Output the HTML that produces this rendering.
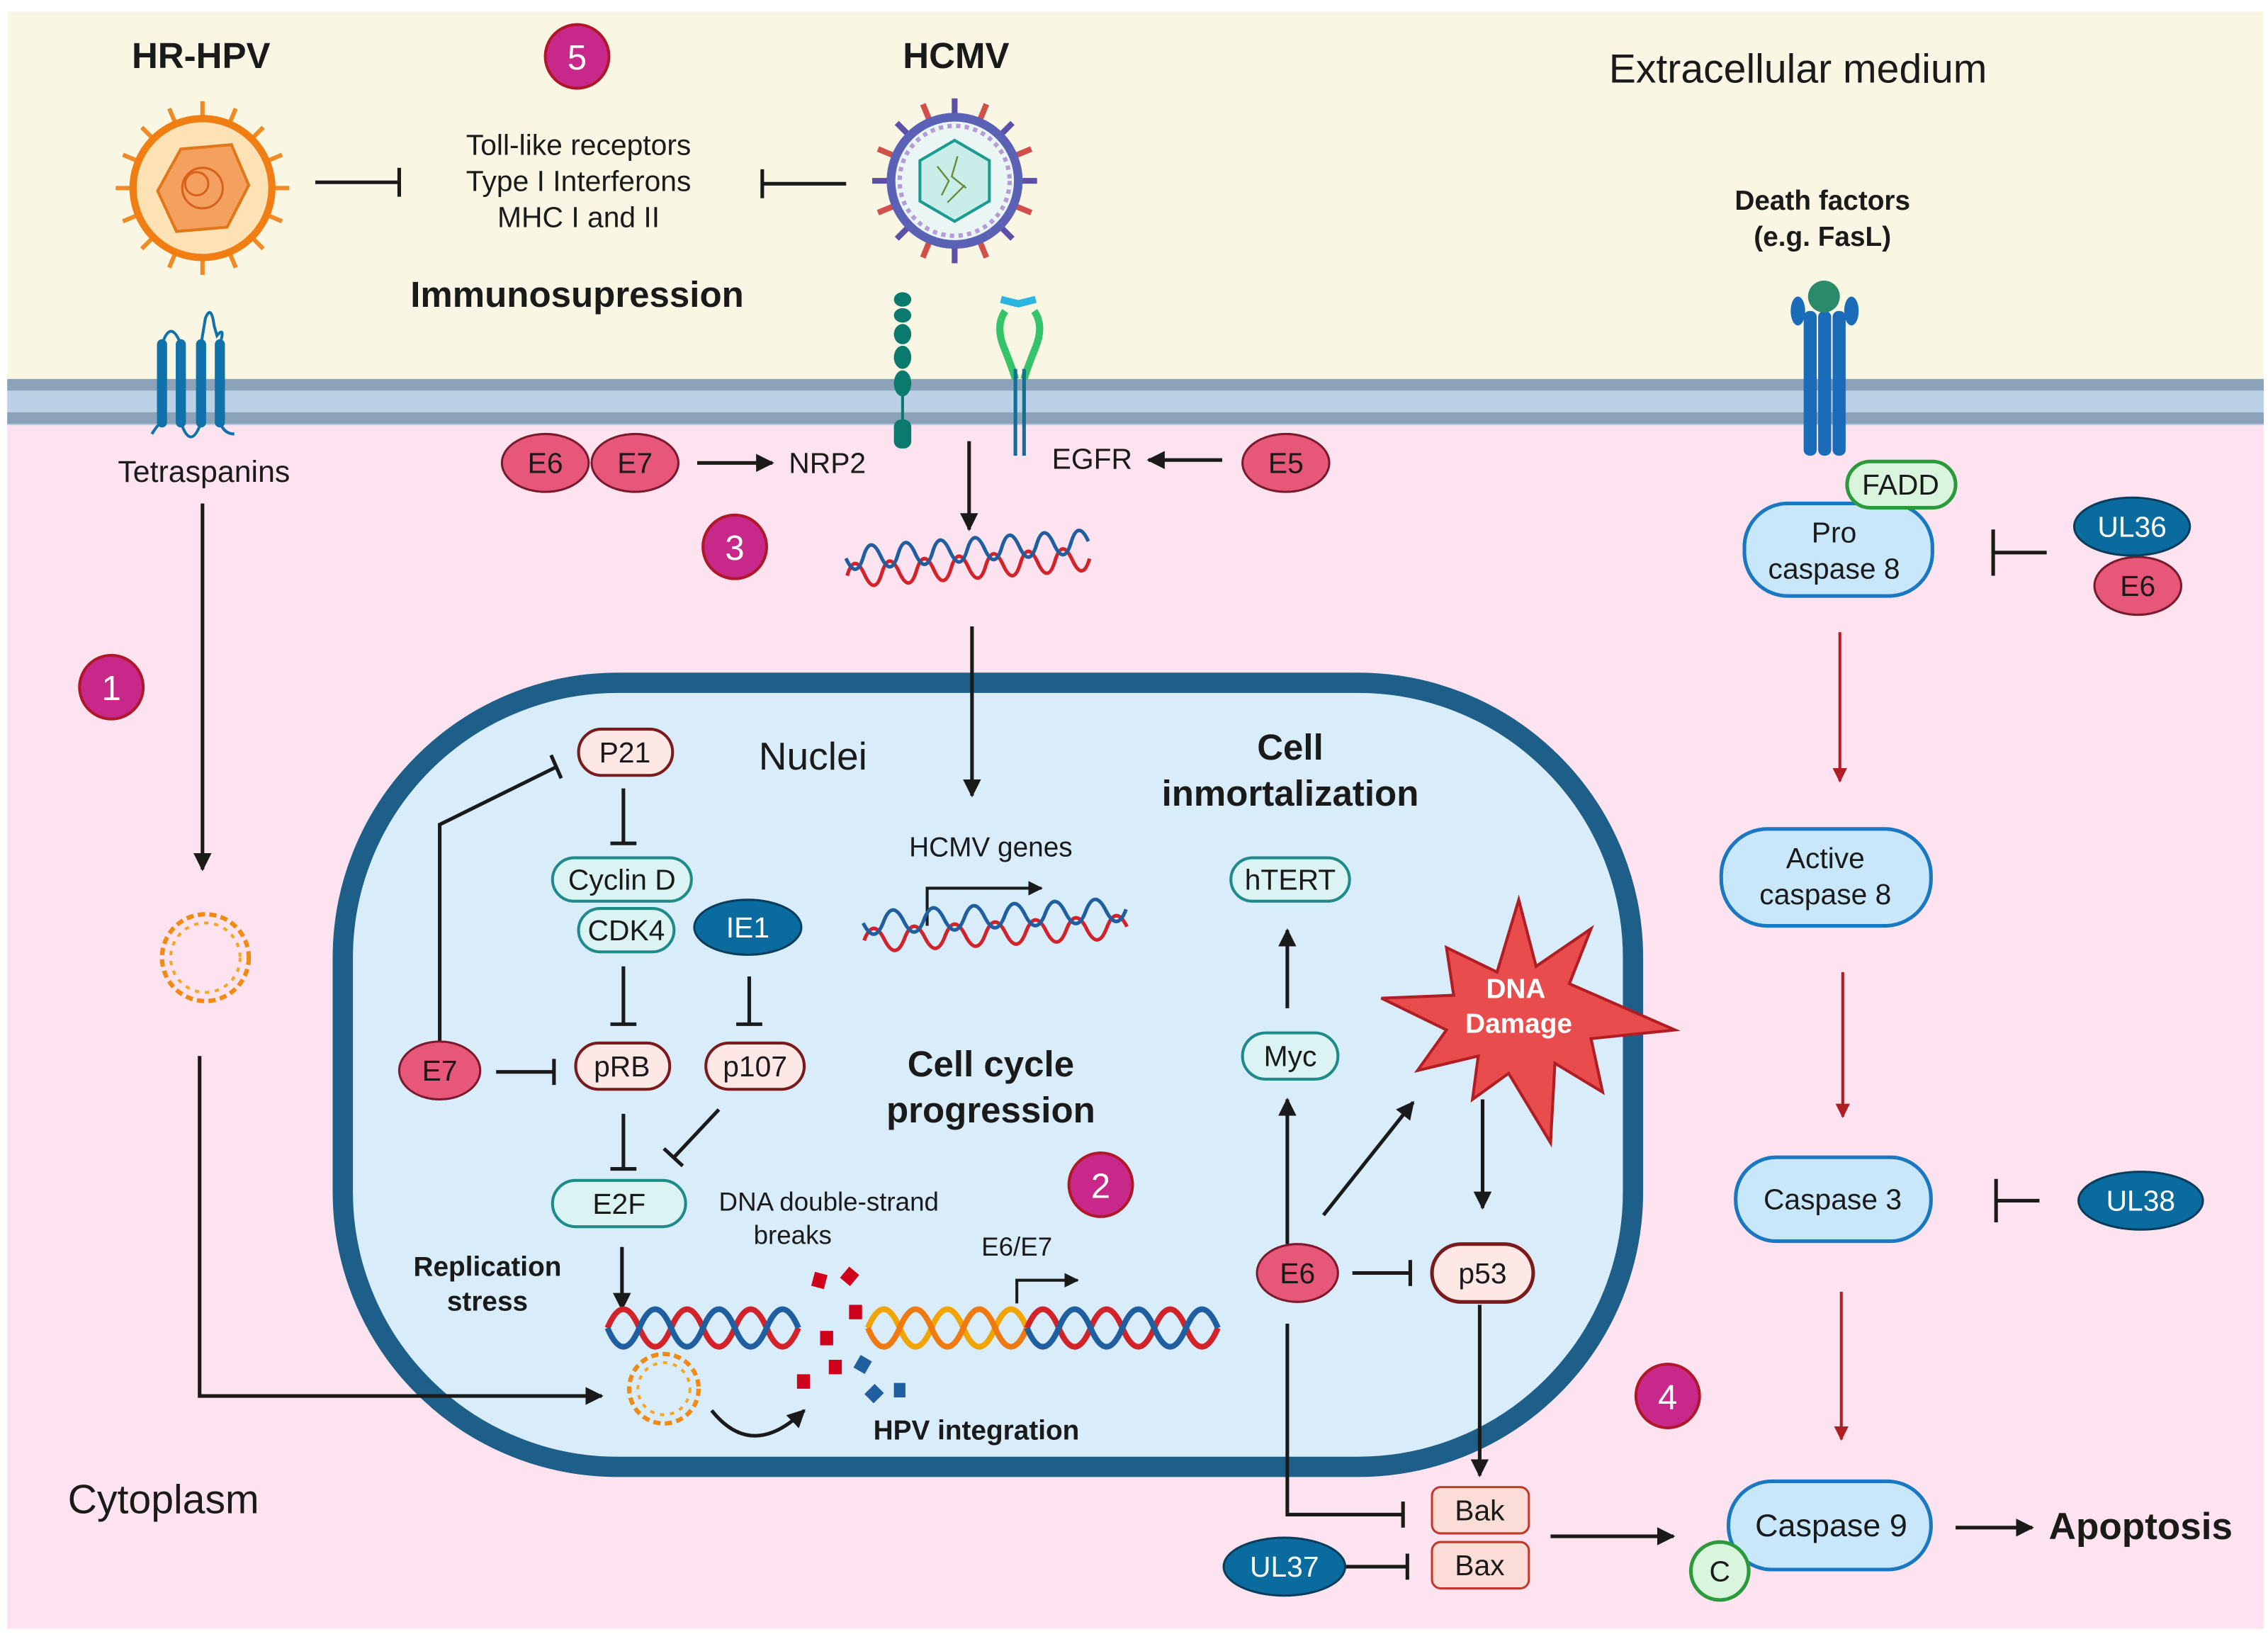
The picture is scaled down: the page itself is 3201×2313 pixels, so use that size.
<!DOCTYPE html>
<html><head><meta charset="utf-8"><style>
html,body{margin:0;padding:0;background:#fff}
svg{display:block}
text{font-family:"Liberation Sans",sans-serif;fill:#1a1a1a}
.b{font-weight:bold}
</style></head><body>
<svg width="3201" height="2313" viewBox="0 0 1568 1133" xmlns="http://www.w3.org/2000/svg">
<defs>
<marker id="ar" viewBox="0 0 10 10" refX="9" refY="5" markerWidth="5" markerHeight="5" orient="auto-start-reverse"><path d="M0 0L10 5L0 10z" fill="#1a1a1a"/></marker>
<marker id="rr" viewBox="0 0 10 10" refX="9" refY="5" markerWidth="5" markerHeight="5" orient="auto"><path d="M0 0L10 5L0 10z" fill="#b01e23"/></marker>
</defs>
<rect width="1568" height="1133" fill="#fff"/>
<rect x="5" y="8" width="1560" height="256" fill="#f9f6e4"/>
<rect x="5" y="292" width="1560" height="834" fill="#fde3ef"/>
<rect x="5" y="262" width="1560" height="32" fill="#bcd0e6"/>
<rect x="5" y="262" width="1560" height="8" fill="#8ca2b8"/>
<rect x="5" y="285" width="1560" height="8" fill="#8ca2b8"/>

<!-- nucleus -->
<rect x="237" y="472" width="892" height="542" rx="190" fill="#d9ecfa" stroke="#1e5f8a" stroke-width="14"/>

<!-- titles -->
<text x="139" y="47" font-size="25" text-anchor="middle" class="b">HR-HPV</text>
<text x="661" y="47" font-size="25" text-anchor="middle" class="b">HCMV</text>
<text x="1243" y="57" font-size="28" text-anchor="middle">Extracellular medium</text>
<g font-size="20" text-anchor="middle"><text x="400" y="107">Toll-like receptors</text><text x="400" y="132">Type I Interferons</text><text x="400" y="157">MHC I and II</text></g>
<text x="399" y="212" font-size="25" text-anchor="middle" class="b">Immunosupression</text>
<g font-size="19" text-anchor="middle" class="b"><text x="1260" y="145">Death factors</text><text x="1260" y="170">(e.g. FasL)</text></g>
<text x="141" y="333" font-size="21" text-anchor="middle">Tetraspanins</text>
<text x="113" y="1046" font-size="28" text-anchor="middle">Cytoplasm</text>

<!-- HPV virus -->
<g stroke="#f08a24" stroke-width="3" fill="#f08a24">
<line x1="140" y1="70" x2="140" y2="190"/><line x1="80" y1="130" x2="200" y2="130"/>
<line x1="98" y1="88" x2="182" y2="172"/><line x1="98" y1="172" x2="182" y2="88"/>
<line x1="117" y1="75" x2="163" y2="185"/><line x1="85" y1="107" x2="195" y2="153"/>
<line x1="85" y1="153" x2="195" y2="107"/><line x1="117" y1="185" x2="163" y2="75"/>
</g>
<circle cx="140" cy="130" r="48" fill="#fde2b5" stroke="#f07e12" stroke-width="5"/>
<polygon points="125,103 160,100 172,128 157,157 122,160 109,132" fill="#f4a160" stroke="#e2771a" stroke-width="2"/>
<circle cx="140" cy="130" r="14" fill="none" stroke="#d8621a" stroke-width="1.5"/>
<circle cx="136" cy="127" r="8" fill="none" stroke="#d8621a" stroke-width="1.5"/>

<!-- HCMV virus -->
<g stroke-width="4">
<g stroke="#5b4fa8"><line x1="660" y1="68" x2="660" y2="182"/><line x1="603" y1="125" x2="717" y2="125"/><line x1="620" y1="85" x2="700" y2="165"/><line x1="620" y1="165" x2="700" y2="85"/></g>
<g stroke="#d2504a"><line x1="638" y1="72" x2="682" y2="178"/><line x1="607" y1="103" x2="713" y2="147"/><line x1="607" y1="147" x2="713" y2="103"/><line x1="638" y1="178" x2="682" y2="72"/></g>
</g>
<circle cx="660" cy="125" r="44" fill="#eaf6f4" stroke="#5b62b5" stroke-width="6"/>
<circle cx="660" cy="125" r="38" fill="none" stroke="#b79ad8" stroke-width="3" stroke-dasharray="3 3"/>
<polygon points="660,97 684,111 684,139 660,153 636,139 636,111" fill="#c9eeea" stroke="#1a9a90" stroke-width="2"/>
<path d="M648 115 l8 10 l-5 10 M662 108 l-4 14 l10 8 M655 140 l12 -12" stroke="#6b8a3a" stroke-width="1.2" fill="none"/>

<!-- inhibit lines top -->
<g stroke="#1a1a1a" stroke-width="2.5" fill="none">
<line x1="218" y1="126" x2="276" y2="126"/><line x1="276" y1="116" x2="276" y2="136"/>
<line x1="585" y1="127" x2="527" y2="127"/><line x1="527" y1="117" x2="527" y2="137"/>
</g>

<!-- tetraspanins -->
<g stroke="#0f72aa" stroke-width="7" stroke-linecap="round" fill="none">
<line x1="112" y1="238" x2="112" y2="292"/><line x1="125" y1="238" x2="125" y2="292"/>
<line x1="139" y1="238" x2="139" y2="292"/><line x1="152" y1="238" x2="152" y2="292"/>
</g>
<g stroke="#0f72aa" stroke-width="2" fill="none">
<path d="M112 238 Q118 220 125 238"/><path d="M139 238 L142 220 Q146 210 148 225 L150 232 Q156 225 152 238"/>
<path d="M105 300 Q110 292 112 292 M125 292 Q132 312 139 292 M152 292 Q155 300 162 300"/>
</g>
<!-- NRP2 -->
<g fill="#0b7a6e"><ellipse cx="624" cy="207" rx="6" ry="5"/><ellipse cx="624" cy="218" rx="6" ry="5"/><ellipse cx="624" cy="231" rx="6" ry="7"/><ellipse cx="624" cy="247" rx="6" ry="8"/><ellipse cx="624" cy="265" rx="6" ry="9"/><rect x="618" y="290" width="12" height="20" rx="5"/></g>
<line x1="624" y1="270" x2="624" y2="292" stroke="#0b7a6e" stroke-width="2"/>
<!-- EGFR -->
<g fill="none" stroke-width="5">
<path d="M695 215 Q688 225 694 240 Q700 255 702 262" stroke="#35c46a"/><path d="M715 215 Q722 225 716 240 Q710 255 708 262" stroke="#35c46a"/>
<path d="M692 207 L704 210 L716 207" stroke="#2bb5e0"/></g>
<line x1="702" y1="255" x2="702" y2="315" stroke="#0f6f99" stroke-width="2.5"/><line x1="708" y1="255" x2="708" y2="315" stroke="#0f6f99" stroke-width="2.5"/>
<!-- Fas receptor -->
<g fill="#1a6bb8"><rect x="1247" y="215" width="9" height="100" rx="4"/><rect x="1257" y="215" width="9" height="100" rx="4"/><rect x="1267" y="215" width="9" height="100" rx="4"/>
<ellipse cx="1243" cy="215" rx="5" ry="10"/><ellipse cx="1280" cy="215" rx="5" ry="10"/></g>
<circle cx="1261" cy="205" r="11" fill="#2a8a6a"/>

<!-- top cytoplasm row -->
<g stroke="#7a1a2c" stroke-width="1.5" fill="#e6577a">
<ellipse cx="377" cy="320" rx="30" ry="20"/><ellipse cx="439" cy="320" rx="30" ry="20"/><ellipse cx="889" cy="320" rx="30" ry="20"/>
</g>
<g font-size="20" text-anchor="middle"><text x="377" y="327">E6</text><text x="439" y="327">E7</text><text x="889" y="327">E5</text>
<text x="572" y="327">NRP2</text><text x="755" y="324">EGFR</text></g>
<g stroke="#1a1a1a" stroke-width="2.5" fill="none" marker-end="url(#ar)">
<line x1="482" y1="320" x2="534" y2="320"/><line x1="845" y1="318" x2="794" y2="318"/>
<line x1="670" y1="305" x2="670" y2="366"/><line x1="672" y1="433" x2="672" y2="550"/>
<line x1="140" y1="348" x2="140" y2="601"/>
<polyline points="138,730 138,965 416,965"/>
<line x1="890" y1="860" x2="890" y2="760"/><line x1="890" y1="697" x2="890" y2="643"/>
<line x1="915" y1="840" x2="977" y2="762"/><line x1="1025" y1="760" x2="1025" y2="835"/>
<line x1="1023" y1="902" x2="1023" y2="1020"/><line x1="430" y1="862" x2="430" y2="905"/>
<line x1="1072" y1="1062" x2="1157" y2="1062"/><line x1="1352" y1="1056" x2="1405" y2="1056"/>
<path d="M492 975 Q520 1010 556 975"/>
</g>
<path d="M703 901 L703 885 L745 885" stroke="#1a1a1a" stroke-width="2" fill="none" marker-end="url(#ar)"/>
<path d="M641 640 L641 614 L720 614" stroke="#1a1a1a" stroke-width="2" fill="none" marker-end="url(#ar)"/>

<!-- inhibitors -->
<g stroke="#1a1a1a" stroke-width="2.5" fill="none">
<polyline points="304,720 304,570 385,530"/><line x1="381" y1="522" x2="388" y2="538"/>
<line x1="431" y1="545" x2="431" y2="583"/><line x1="422" y1="583" x2="440" y2="583"/>
<line x1="431" y1="668" x2="431" y2="708"/><line x1="422" y1="708" x2="440" y2="708"/>
<line x1="518" y1="675" x2="518" y2="708"/><line x1="509" y1="708" x2="527" y2="708"/>
<line x1="343" y1="741" x2="383" y2="741"/><line x1="383" y1="732" x2="383" y2="750"/>
<line x1="431" y1="770" x2="431" y2="808"/><line x1="422" y1="808" x2="440" y2="808"/>
<line x1="497" y1="767" x2="466" y2="800"/><line x1="459" y1="794" x2="472" y2="806"/>
<line x1="935" y1="880" x2="975" y2="880"/><line x1="975" y1="871" x2="975" y2="889"/>
<polyline points="890,915 890,1047 970,1047"/><line x1="970" y1="1038" x2="970" y2="1056"/>
<line x1="930" y1="1083" x2="973" y2="1083"/><line x1="973" y1="1074" x2="973" y2="1092"/>
<line x1="1415" y1="382" x2="1378" y2="382"/><line x1="1378" y1="366" x2="1378" y2="398"/>
<line x1="1410" y1="830" x2="1380" y2="830"/><line x1="1380" y1="815" x2="1380" y2="845"/>
</g>
<!-- red arrows -->
<g stroke="#b01e23" stroke-width="2" marker-end="url(#rr)">
<line x1="1272" y1="437" x2="1272" y2="540"/><line x1="1274" y1="672" x2="1274" y2="772"/><line x1="1273" y1="893" x2="1273" y2="995"/>
</g>

<!-- helices -->
<g fill="none" stroke-width="2.5">
<path d="M585 392 q6 -16 12 0 t12 0 t12 0 t12 0 t12 0 t12 0 t12 0 t12 0 t12 0 t12 0 t12 0 t12 0 t12 0 t12 0" stroke="#d2232a" transform="rotate(-4 670 385)"/>
<path d="M585 380 q6 16 12 0 t12 0 t12 0 t12 0 t12 0 t12 0 t12 0 t12 0 t12 0 t12 0 t12 0 t12 0 t12 0 t12 0" stroke="#1f5fa0" transform="rotate(-4 670 385)"/>
<path d="M597 645 q7 -16 14 0 t14 0 t14 0 t14 0 t14 0 t14 0 t14 0 t14 0 t14 0 t14 0 t14 0 t14 0 t14 0" stroke="#d2232a" transform="rotate(-3 695 640)"/>
<path d="M597 633 q7 16 14 0 t14 0 t14 0 t14 0 t14 0 t14 0 t14 0 t14 0 t14 0 t14 0 t14 0 t14 0 t14 0" stroke="#1f5fa0" transform="rotate(-3 695 640)"/>
<g stroke-width="4">
<path d="M420 918 q11 -26 22 0 t22 0 t22 0 t22 0 t22 0 t22 0" stroke="#d2232a"/>
<path d="M420 918 q11 26 22 0 t22 0 t22 0 t22 0 t22 0 t22 0" stroke="#1f5fa0"/>
<path d="M600 918 q11 -26 22 0 t22 0 t22 0 t22 0 t22 0" stroke="#f0a500"/>
<path d="M600 918 q11 26 22 0 t22 0 t22 0 t22 0 t22 0" stroke="#f07a12"/>
<path d="M710 918 q11 -26 22 0 t22 0 t22 0 t22 0 t22 0 t22 0" stroke="#d2232a"/>
<path d="M710 918 q11 26 22 0 t22 0 t22 0 t22 0 t22 0 t22 0" stroke="#1f5fa0"/>
</g>
<circle cx="142" cy="662" r="30" stroke="#f08a12" stroke-width="3" stroke-dasharray="5 3"/>
<circle cx="142" cy="662" r="24" stroke="#f5a623" stroke-width="2" stroke-dasharray="3 4"/>
<circle cx="459" cy="960" r="24" stroke="#f08a12" stroke-width="3" stroke-dasharray="5 3"/>
<circle cx="459" cy="960" r="18" stroke="#f5a623" stroke-width="2" stroke-dasharray="3 4"/>
</g>
<!-- fragments -->
<g fill="#d0021b"><rect x="562" y="880" width="9" height="10" transform="rotate(15 566 885)"/><rect x="583" y="877" width="9" height="10" transform="rotate(40 587 882)"/><rect x="587" y="902" width="9" height="10"/><rect x="567" y="920" width="9" height="10"/><rect x="573" y="940" width="9" height="10"/><rect x="551" y="950" width="9" height="10"/></g>
<g fill="#1f5fa0"><rect x="592" y="938" width="9" height="10" transform="rotate(30 596 943)"/><rect x="600" y="958" width="9" height="10" transform="rotate(45 604 963)"/><rect x="618" y="956" width="8" height="10"/></g>

<!-- DNA damage star -->
<polygon points="1050,622 1062,668 1100,642 1085,680 1158,712 1100,718 1108,755 1075,735 1072,790 1043,742 1018,760 1022,730 980,740 1000,712 955,690 1005,688 1000,655 1035,672" fill="#e84c4c" stroke="#b01e23" stroke-width="2"/>
<g font-size="19" text-anchor="middle" class="b" fill="#fff"><text x="1048" y="690" style="fill:#fff">DNA</text><text x="1050" y="714" style="fill:#fff">Damage</text></g>

<!-- nucleus labels -->
<text x="562" y="532" font-size="27" text-anchor="middle">Nuclei</text>
<text x="685" y="592" font-size="19" text-anchor="middle">HCMV genes</text>
<g font-size="25" text-anchor="middle" class="b"><text x="892" y="525">Cell</text><text x="892" y="557">inmortalization</text>
<text x="685" y="744">Cell cycle</text><text x="685" y="776">progression</text></g>
<g font-size="19" text-anchor="middle" class="b"><text x="337" y="882">Replication</text><text x="337" y="906">stress</text><text x="675" y="995">HPV integration</text></g>
<g font-size="18" text-anchor="middle"><text x="573" y="837">DNA double-strand</text><text x="548" y="860">breaks</text><text x="703" y="868">E6/E7</text></g>

<!-- teal pills -->
<g fill="#dcf3f3" stroke="#1f8a8a" stroke-width="2">
<rect x="382" y="593" width="96" height="30" rx="15"/><rect x="400" y="628" width="66" height="30" rx="15"/>
<rect x="382" y="816" width="92" height="32" rx="16"/><rect x="851" y="593" width="82" height="30" rx="15"/>
<rect x="859" y="714" width="66" height="32" rx="16"/>
</g>
<!-- red pills -->
<g fill="#fde8e6" stroke="#7a1a1a" stroke-width="2">
<rect x="400" y="504" width="65" height="32" rx="16"/><rect x="398" y="721" width="65" height="32" rx="16"/>
<rect x="488" y="721" width="68" height="32" rx="16"/><rect x="990" y="860" width="70" height="40" rx="20" stroke-width="2.5"/>
</g>
<g fill="#fcdcd6" stroke="#c0392b" stroke-width="1.5"><rect x="990" y="1028" width="67" height="32" rx="6"/><rect x="990" y="1066" width="67" height="32" rx="6"/></g>
<!-- caspases -->
<g fill="#c9e7fb" stroke="#1a78c2" stroke-width="2.5">
<rect x="1206" y="348" width="130" height="64" rx="30"/><rect x="1190" y="573" width="145" height="67" rx="32"/>
<rect x="1200" y="800" width="135" height="58" rx="28"/><rect x="1195" y="1024" width="140" height="61" rx="30"/>
</g>
<g fill="#d9f5dd" stroke="#2a9a3a" stroke-width="2.5"><rect x="1277" y="319" width="75" height="32" rx="16"/><circle cx="1189" cy="1086" r="20"/></g>
<!-- ellipses -->
<g stroke="#7a1a2c" stroke-width="1.5" fill="#e6577a"><ellipse cx="304" cy="740" rx="28" ry="20"/><ellipse cx="897" cy="880" rx="28" ry="20"/><ellipse cx="1478" cy="405" rx="30" ry="20"/></g>
<g stroke="#0a3d5c" stroke-width="1.5" fill="#0a6b9e"><ellipse cx="517" cy="641" rx="37" ry="19"/><ellipse cx="1474" cy="364" rx="40" ry="20"/><ellipse cx="1480" cy="830" rx="43" ry="20"/><ellipse cx="888" cy="1083" rx="42" ry="20"/></g>

<g font-size="20" text-anchor="middle">
<text x="432" y="527">P21</text><text x="430" y="615">Cyclin D</text><text x="433" y="650">CDK4</text>
<text x="430" y="744">pRB</text><text x="522" y="744">p107</text><text x="428" y="839">E2F</text>
<text x="892" y="615">hTERT</text><text x="892" y="737">Myc</text><text x="1025" y="887">p53</text>
<text x="304" y="747">E7</text><text x="897" y="887">E6</text><text x="1478" y="412">E6</text>
<text x="1023" y="1051">Bak</text><text x="1023" y="1089">Bax</text>
<text x="1314" y="342">FADD</text><text x="1189" y="1093">C</text>
<text x="1268" y="375">Pro</text><text x="1268" y="400">caspase 8</text>
<text x="1262" y="600">Active</text><text x="1262" y="625">caspase 8</text>
<text x="1267" y="836">Caspase 3</text><text x="1266" y="1062" font-size="22">Caspase 9</text>
</g>
<g font-size="20" text-anchor="middle" style="fill:#fff"><text x="517" y="648" style="fill:#fff">IE1</text><text x="1474" y="371" style="fill:#fff">UL36</text><text x="1480" y="837" style="fill:#fff">UL38</text><text x="888" y="1090" style="fill:#fff">UL37</text></g>
<text x="1480" y="1064" font-size="26" text-anchor="middle" class="b">Apoptosis</text>

<!-- number badges -->
<g fill="#c8288a" stroke="#b0182a" stroke-width="2">
<circle cx="399" cy="39" r="22"/><circle cx="508" cy="378" r="22"/><circle cx="77" cy="475" r="22"/><circle cx="761" cy="819" r="22"/><circle cx="1153" cy="965" r="22"/>
</g>
<g font-size="24" text-anchor="middle" style="fill:#fff"><text x="399" y="48" style="fill:#fff">5</text><text x="508" y="387" style="fill:#fff">3</text><text x="77" y="484" style="fill:#fff">1</text><text x="761" y="828" style="fill:#fff">2</text><text x="1153" y="974" style="fill:#fff">4</text></g>
</svg>
</body></html>
